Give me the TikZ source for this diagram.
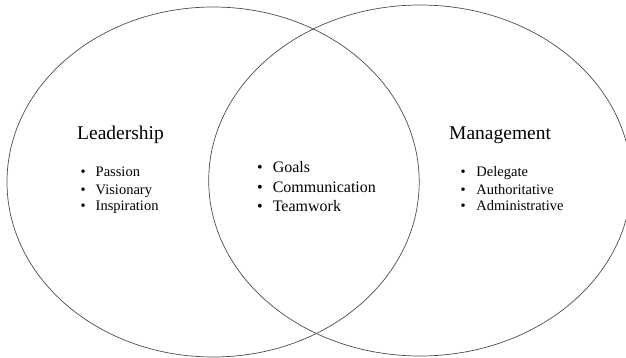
\documentclass[tikz,border=0pt]{standalone}
\usepackage{fontspec}
\setmainfont{Liberation Serif}
\usetikzlibrary{shapes.geometric}
\tikzset{
  setring/.style={ellipse, draw=black!70, line width=0.7pt, inner sep=0pt},
  settitle/.style={anchor=base west, inner sep=0pt, font=\fontsize{19.5}{22}\selectfont},
  setitem/.style={anchor=base west, inner sep=0pt, font=\fontsize{14.5}{17}\selectfont},
  shareditem/.style={setitem, font=\fontsize{16}{19}\selectfont},
}
\newcommand{\bulitem}[2][15pt]{\makebox[#1][l]{\textbullet}#2}

\begin{document}
\begin{tikzpicture}[x=1pt, y=-1pt]
  \useasboundingbox (0,0) rectangle (626,358);
  % the two sets
  \node[setring, minimum width=412.2pt, minimum height=350pt] (lead) at (213.1,182) {};
  \node[setring, minimum width=422.6pt, minimum height=351pt] (mgmt) at (420,180.5) {};
  % leadership only
  \node[settitle] (leadtitle) at (77,139.3) {Leadership};
  \node[setitem] (passion) at (80.5,176.7) {\bulitem{Passion}};
  \node[setitem] (visionary) at (80.5,194) {\bulitem{Visionary}};
  \node[setitem] (inspiration) at (80.5,211) {\bulitem{Inspiration}};
  % overlap
  \node[shareditem] (goals) at (256.8,172.7) {\bulitem[15.8pt]{Goals}};
  \node[shareditem] (communication) at (256.8,192.3) {\bulitem[15.8pt]{Communication}};
  \node[shareditem] (teamwork) at (256.8,211.7) {\bulitem[15.8pt]{Teamwork}};
  % management only
  \node[settitle] (mgmttitle) at (449,139.3) {Management};
  \node[setitem] (delegate) at (460.3,176.7) {\bulitem[16pt]{Delegate}};
  \node[setitem] (authoritative) at (460.3,194) {\bulitem[16pt]{Authoritative}};
  \node[setitem] (administrative) at (460.3,211) {\bulitem[16pt]{Administrative}};
\end{tikzpicture}
\end{document}
